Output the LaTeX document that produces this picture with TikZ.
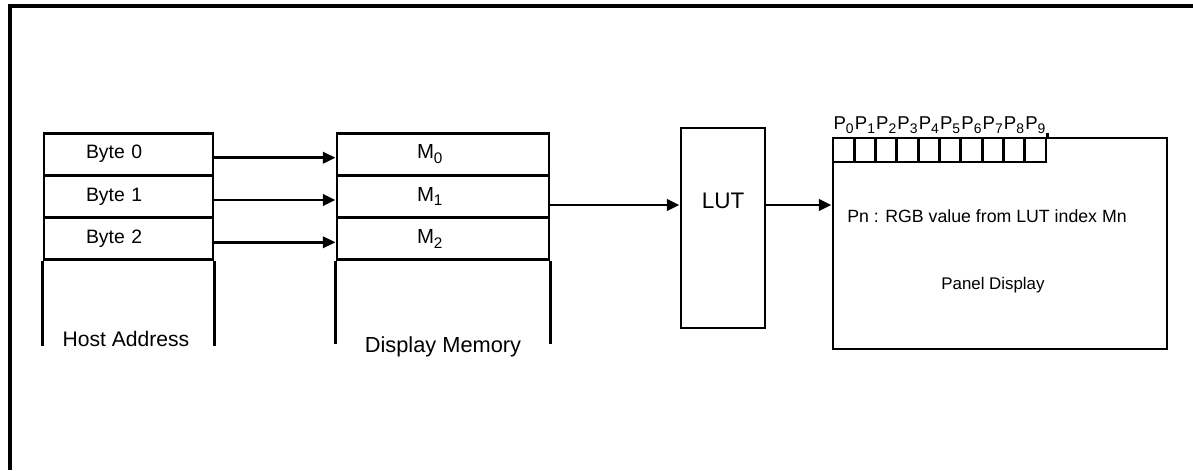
\documentclass[tikz,border=0pt]{standalone}
\usepackage{fontspec}
\setmainfont{Liberation Sans}
\usetikzlibrary{arrows.meta}

\newcommand{\dn}[1]{\raisebox{-0.45ex}{\scalebox{0.75}{#1}}}
\def\px{0.025cm}

\tikzset{
  ln/.style={line width=2.1pt},
  frameline/.style={line width=2.4pt},
  arr/.style={line width=2.1pt, -{Triangle[length=9pt,width=8pt]}},
  cell/.style={draw, ln, inner sep=0pt, minimum height=42.33*\px},
  hostrow/.style={cell, align=left, text width=85*\px, inner xsep=42*\px,
    font=\fontsize{13.8}{16}\selectfont},
  memrow/.style={cell, align=left, text width=52*\px, inner xsep=80*\px,
    font=\fontsize{14.5}{16}\selectfont},
  lbl/.style={inner sep=0pt, font=\fontsize{15}{18}\selectfont},
  pcell/.style={draw, ln, inner sep=0pt, minimum width=21.3*\px, minimum height=24*\px},
  plbl/.style={inner sep=0pt, font=\fontsize{13.2}{15}\selectfont},
  paneltext/.style={inner sep=0pt, font=\fontsize{12.6}{15}\selectfont}
}

\begin{document}
\begin{tikzpicture}[x=0.025cm, y=-0.025cm]

   \useasboundingbox (0,0) rectangle (1193,470);

   % outer frame
   \draw[frameline] (8,6) -- (1193,6);
   \draw[frameline] (10,6) -- (10,470);

   % host address
   \node[hostrow] (b0) at (128.5,154.2) {Byte 0};
   \node[hostrow] (b1) at (128.5,196.5) {Byte 1};
   \node[hostrow] (b2) at (128.5,238.8) {Byte 2};
   \draw[ln] (b2.south west) -- ++(0,85);
   \draw[ln] (b2.south east) -- ++(0,85);
   \node[lbl] (hostlbl) at (126,339) {Host Address};

   % display memory
   \node[memrow] (m0) at (443,154.2) {M\dn{0}};
   \node[memrow] (m1) at (443,196.5) {M\dn{1}};
   \node[memrow] (m2) at (443,238.8) {M\dn{2}};
   \draw[ln] (m2.south west) -- ++(0,83);
   \draw[ln] (m2.south east) -- ++(0,83);
   \node[lbl, font=\fontsize{15.5}{18}\selectfont] (memlbl) at (443,347) {Display Memory};

   \draw[arr] ([yshift=-3.5*\px]b0.east) -- ([yshift=-3.5*\px]m0.west);
   \draw[arr] ([yshift=-3.5*\px]b1.east) -- ([yshift=-3.5*\px]m1.west);
   \draw[arr] ([yshift=-3.5*\px]b2.east) -- ([yshift=-3.5*\px]m2.west);

   % LUT
   \node[draw, ln, minimum width=84*\px, minimum height=200*\px] (lut) at (723,228) {};
   \node[inner sep=0pt, font=\fontsize{16}{18}\selectfont] (luttxt) at (723,201) {LUT};
   \draw[arr] ([yshift=-8.5*\px]m1.east) -- ([yshift=-8.5*\px]m1.east -| lut.west);

   % panel
   \node[draw, ln, minimum width=334*\px, minimum height=211*\px] (panel) at (1000,243.5) {};
   \draw[arr] ([yshift=23*\px]lut.east) -- ([yshift=23*\px]lut.east -| panel.west);

   \foreach \i in {0,...,9} {
     \node[pcell] (c\i) at ({833+21.3*(\i+0.5)},150) {};
     \node[plbl] (p\i) at ({833+21.3*(\i+0.5)},125) {P\dn{\i}};
   }
   \draw[ln] (c9.north east) -- ++(0,-4);

   \node[paneltext] (rgbtxt) at (987,216) {Pn : RGB value from LUT index Mn};
   \node[paneltext, font=\fontsize{12}{15}\selectfont] (paneltxt) at (993,285) {Panel Display};

\end{tikzpicture}
\end{document}
